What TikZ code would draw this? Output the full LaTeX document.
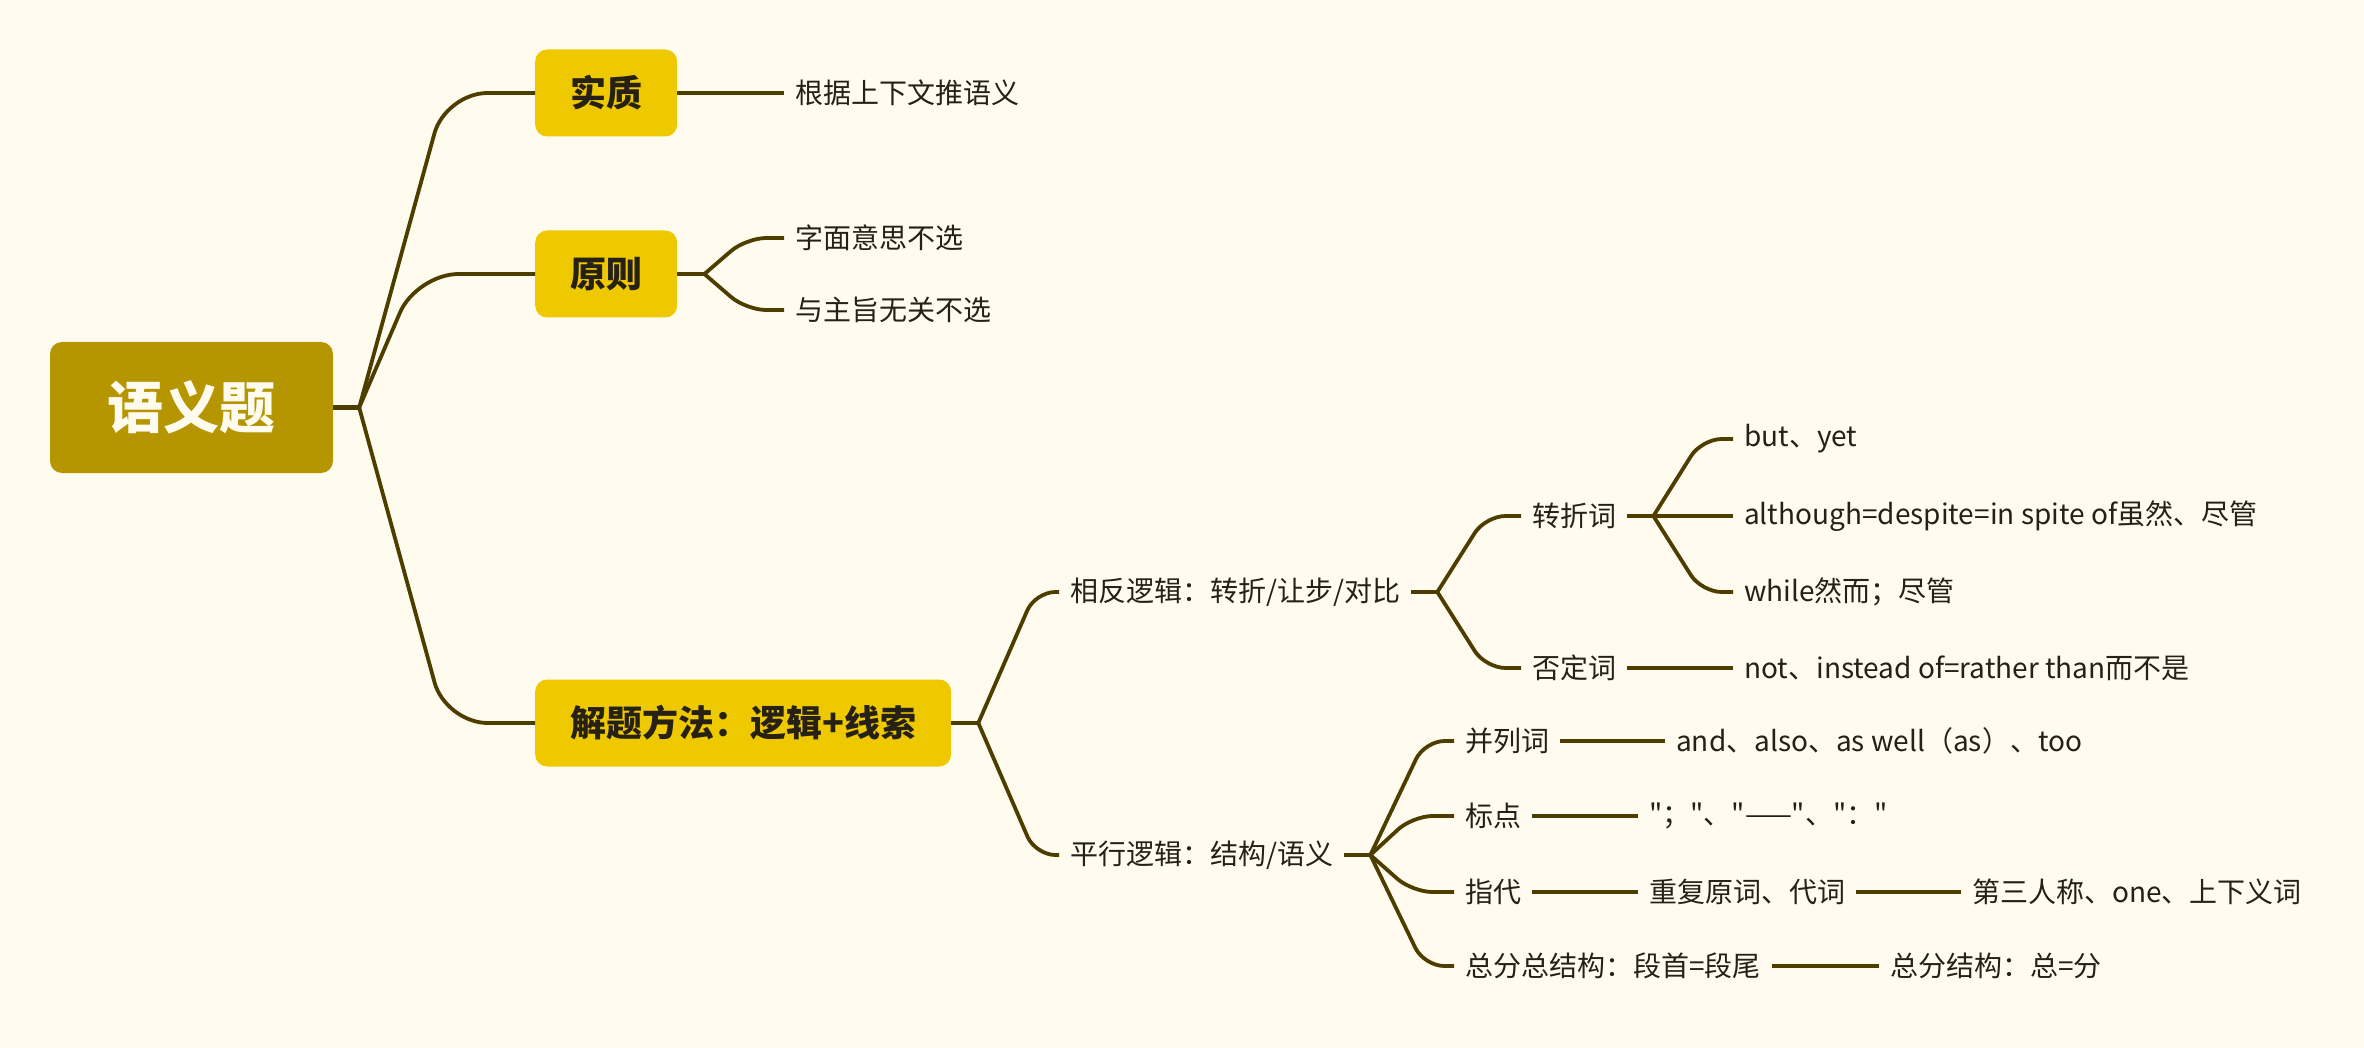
\documentclass[tikz,border=0pt]{standalone}
\usepackage{fontspec}
\setmainfont{Noto Sans CJK SC}
\newfontfamily\rawfont{Noto Sans CJK SC}
\usetikzlibrary{calc}
\definecolor{paper}{RGB}{255,251,238}
\definecolor{rootgold}{RGB}{181,149,0}
\definecolor{topicgold}{RGB}{238,201,0}
\definecolor{branchbrown}{RGB}{77,62,0}
\definecolor{inkdark}{RGB}{38,33,20}

% elbow branch from a fork coordinate to the west side of a child node
\newcommand{\branchto}[3][20pt]{%
  \draw[link, rounded corners=#1] let \p1=(#2), \p2=(#3.west) in
    (\p1) -- ({\x1+0.16*abs(\y2-\y1)+36pt},\y2) -- (\p2);}

\begin{document}
\begin{tikzpicture}[x=1pt, y=-1pt,
  link/.style={draw=branchbrown, line width=3.8pt},
  rootbox/.style={fill=rootgold, rounded corners=12pt, minimum width=283pt,
    minimum height=131pt, text=paper, font=\fontsize{56}{60}\selectfont\bfseries},
  topicbox/.style={anchor=west, fill=topicgold, rounded corners=12pt, inner xsep=35pt,
    minimum height=87pt, text=inkdark, font=\fontsize{36}{40}\selectfont\bfseries},
  leaf/.style={anchor=west, inner xsep=11pt, inner ysep=2pt, text=inkdark,
    font=\fontsize{28}{32}\selectfont}]
  \path[use as bounding box, fill=paper] (0,0) rectangle (2364,1048);

  % Central topic and main topics
  \node[rootbox] (root) at (191.5,407.5) {语义题};
  \node[topicbox] (essence) at (535,93) {实质};
  \node[topicbox] (rule) at (535,274) {原则};
  \node[topicbox] (method) at (535,723) {解题方法：逻辑+线索};

  % Second level
  \node[leaf] (context) at (784,93) {根据上下文推语义};
  \node[leaf] (literal) at (784,238) {字面意思不选};
  \node[leaf] (offtopic) at (784,310) {与主旨无关不选};
  \node[leaf] (contrast) at (1059,592) {相反逻辑：转折/让步/对比};
  \node[leaf] (parallel) at (1059,855) {平行逻辑：结构/语义};

  % Contrast logic
  \node[leaf] (turnword) at (1521,516) {转折词};
  \node[leaf] (negword) at (1521,668) {否定词};
  \node[leaf] (butyet) at (1733,439) {but、yet};
  \node[leaf] (although) at (1733,516) {although=despite=in spite of虽然、尽管};
  \node[leaf] (while) at (1733,592) {while然而；尽管};
  \node[leaf] (notleaf) at (1733,668) {not、instead of=rather than而不是};

  % Parallel logic
  \node[leaf] (andword) at (1454,741) {并列词};
  \node[leaf] (punct) at (1454,816) {标点};
  \node[leaf] (refer) at (1454,892) {指代};
  \node[leaf] (whole) at (1454,966) {总分总结构：段首=段尾};
  \node[leaf] (andlist) at (1665,741) {and、also、as well（as）、too};
  \node[leaf] (marks) at (1638,816) {\rawfont "；"、"——"、"："};
  \node[leaf] (repeat) at (1638,892) {重复原词、代词};
  \node[leaf] (person) at (1961,892) {第三人称、one、上下义词};
  \node[leaf] (partial) at (1879,966) {总分结构：总=分};

  % Forks
  \coordinate (f0) at ($(root.east)+(26,0)$);
  \coordinate (f1) at ($(rule.east)+(27,0)$);
  \coordinate (f2) at ($(method.east)+(27,0)$);
  \coordinate (f3) at ($(contrast.east)+(26,0)$);
  \coordinate (f4) at ($(turnword.east)+(26,0)$);
  \coordinate (f5) at ($(parallel.east)+(26,0)$);

  % Connectors
  \draw[link, line width=4.2pt] (root.east) -- (f0);
  \branchto[42pt]{f0}{essence}
  \branchto[42pt]{f0}{rule}
  \branchto[42pt]{f0}{method}
  \draw[link] (essence.east) -- (context.west);
  \draw[link] (rule.east) -- (f1);
  \branchto{f1}{literal}
  \branchto{f1}{offtopic}
  \draw[link] (method.east) -- (f2);
  \branchto{f2}{contrast}
  \branchto{f2}{parallel}
  \draw[link] (contrast.east) -- (f3);
  \branchto{f3}{turnword}
  \branchto{f3}{negword}
  \draw[link] (turnword.east) -- (f4);
  \branchto{f4}{butyet}
  \branchto{f4}{although}
  \branchto{f4}{while}
  \draw[link] (negword.east) -- (notleaf.west);
  \draw[link] (parallel.east) -- (f5);
  \branchto{f5}{andword}
  \branchto{f5}{punct}
  \branchto{f5}{refer}
  \branchto{f5}{whole}
  \draw[link] (andword.east) -- (andlist.west);
  \draw[link] (punct.east) -- (marks.west);
  \draw[link] (refer.east) -- (repeat.west);
  \draw[link] (repeat.east) -- (person.west);
  \draw[link] (whole.east) -- (partial.west);
\end{tikzpicture}
\end{document}
